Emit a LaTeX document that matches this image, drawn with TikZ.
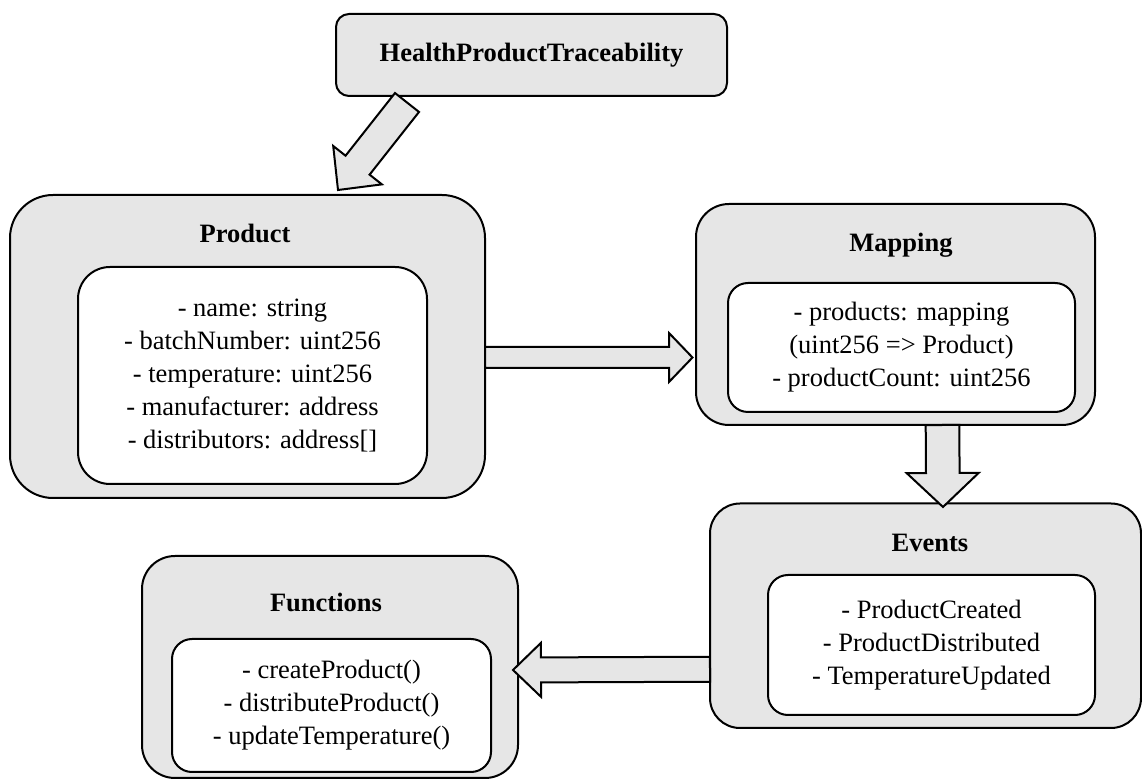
\documentclass[tikz,border=0pt]{standalone}
\usepackage{fontspec}
\setmainfont{Liberation Serif}
\usetikzlibrary{calc}

\definecolor{boxgray}{HTML}{E6E6E6}

\newcommand{\blockarrow}[5]{%
  \path (#1) coordinate (ba-tail) (#2) coordinate (ba-tip);
  \path ($(ba-tip)!#5!(ba-tail)$) coordinate (ba-base);
  \draw [arrowbody] ($(ba-tail)!#3!90:(ba-tip)$) -- ($(ba-base)!#3!90:(ba-tip)$)
    -- ($(ba-base)!#4!90:(ba-tip)$) -- (ba-tip) -- ($(ba-base)!#4!-90:(ba-tip)$)
    -- ($(ba-base)!#3!-90:(ba-tip)$) -- ($(ba-tail)!#3!-90:(ba-tip)$) -- cycle;
}

\begin{document}
\begin{tikzpicture}[x=0.5pt,y=0.5pt,
    every node/.style={font=\fontsize{13.25}{16.5}\selectfont},
    outerbox/.style={draw, line width=1pt, fill=boxgray, inner sep=0pt, outer sep=0pt},
    innerbox/.style={draw, line width=1pt, fill=white, inner sep=0pt, outer sep=0pt, align=center},
    boxtitle/.style={font=\fontsize{13.25}{16.5}\selectfont\bfseries},
    arrowbody/.style={line width=1pt, fill=boxgray, draw=black, line join=miter}]
  \useasboundingbox (0,0) rectangle (1142,-780);

  \node [outerbox, boxtitle, minimum width=195.5pt, minimum height=41pt, rounded corners=6.5pt] (hpt) at (531.5,-55) {HealthProductTraceability};

  \node [outerbox, minimum width=237.5pt, minimum height=151.5pt, rounded corners=21.5pt] (prod) at (247.5,-346.5) {};
  \node [boxtitle] (prodtitle) at (245,-233) {Product};
  \node [innerbox, minimum width=174.5pt, minimum height=108.5pt, rounded corners=16pt] (prodfields) at (252.5,-375.5)
    {- name: string\\- batchNumber: uint256\\- temperature: uint256\\- manufacturer: address\\- distributors: address[]};

  \node [outerbox, minimum width=199.5pt, minimum height=110.5pt, rounded corners=16.5pt] (map) at (895.5,-314.5) {};
  \node [boxtitle] (maptitle) at (901,-245) {Mapping};
  \node [innerbox, minimum width=173.5pt, minimum height=64.5pt, rounded corners=10pt] (mapfields) at (901.5,-347.5)
    {- products: mapping\\(uint256 => Product)\\- productCount: uint256};

  \node [outerbox, minimum width=215.5pt, minimum height=112.25pt, rounded corners=15pt] (evt) at (925.5,-615.75) {};
  \node [boxtitle] (evttitle) at (930,-543) {Events};
  \node [innerbox, minimum width=163.5pt, minimum height=70pt, rounded corners=10pt] (evtlist) at (931.5,-645)
    {- ProductCreated\\- ProductDistributed\\- TemperatureUpdated};

  \node [outerbox, minimum width=188pt, minimum height=111pt, rounded corners=16.5pt] (fun) at (330,-667) {};
  \node [boxtitle] (funtitle) at (326,-602) {Functions};
  \node [innerbox, minimum width=159.5pt, minimum height=66.5pt, rounded corners=10pt] (funlist) at (331.5,-705.5)
    {- createProduct()\\- distributeProduct()\\- updateTemperature()};

  \blockarrow{[xshift=-62.25pt,yshift=-3.25pt]hpt.south}{[xshift=45.25pt,yshift=2.5pt]prod.north}{7.65pt}{15.5pt}{15.8pt}
  \blockarrow{[yshift=-5.5pt]prod.east}{[xshift=-1.75pt,yshift=-21.5pt]map.west}{5.25pt}{12.25pt}{11.75pt}
  \blockarrow{[xshift=23.5pt]map.south}{[xshift=8.75pt,yshift=-1.75pt]evt.north}{8.4pt}{18pt}{17pt}
  \blockarrow{[yshift=-26.75pt]evt.west}{[xshift=-2.5pt,yshift=-1.5pt]fun.east}{6.25pt}{13.5pt}{14pt}
\end{tikzpicture}
\end{document}
